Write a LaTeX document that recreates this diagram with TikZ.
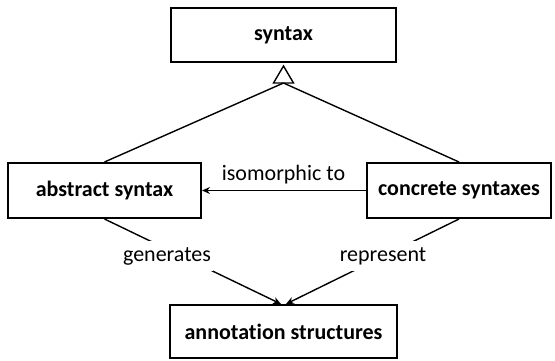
\documentclass[tikz,border=0pt]{standalone}
\usepackage{fontspec}
\setmainfont{Carlito}[RawFeature={-liga;-clig;-calt;-dlig}]
\usetikzlibrary{arrows.meta}

\tikzset{
  box/.style={draw, line width=2pt, rectangle, inner sep=0pt,
              font=\fontsize{22}{26}\selectfont\bfseries},
  link/.style={line width=1.4pt},
  arrowlink/.style={link, -{Stealth[length=8pt,width=7pt]}},
  lbl/.style={font=\fontsize{22}{26}\selectfont, inner sep=0pt},
  gaplbl/.style={lbl, fill=white, inner xsep=2pt, inner ysep=6pt}
}

\begin{document}
\begin{tikzpicture}[x=1pt, y=-1pt]
  \useasboundingbox (0,0) rectangle (555,360);

  % classes
  \node[box, minimum width=225pt, minimum height=54pt] (syn) at (283.5,35) {syntax};
  \node[box, minimum width=193pt, minimum height=55pt] (abs) at (104.5,190.5) {abstract syntax};
  \node[box, minimum width=184pt, minimum height=55pt] (con) at (459,190.5) {concrete syntaxes};
  % \kern0pt keeps "t" and "i" as separate glyphs
  \node[box, minimum width=227pt, minimum height=53pt] (ann) at (283.5,331.5) {annotat\kern0pt ion structures};

  % generalization: shared open triangle under "syntax"
  \coordinate (tri) at (283.5,83);
  \coordinate (tril) at ([xshift=-10pt]tri);
  \coordinate (trir) at ([xshift=10pt]tri);
  \coordinate (trit) at ([yshift=-3pt]syn.south);
  \draw[link, line join=miter] (tril) -- (trit) -- (trir) -- cycle;
  \draw[link] (abs.north) -- (tri);
  \draw[link] (con.north) -- (tri);

  % isomorphism
  \draw[arrowlink] (con.west) -- (abs.east);
  \node[lbl] (iso) at (283.5,175) {isomorphic to};

  % generation / representation
  \draw[arrowlink] (abs.south) -- ([xshift=-2.5pt]ann.north);
  \draw[arrowlink] (con.south) -- ([xshift=2.5pt]ann.north);
  \node[gaplbl] (gen) at (167,256) {generates};
  \node[gaplbl] (rep) at (383,256) {represent};
\end{tikzpicture}
\end{document}
